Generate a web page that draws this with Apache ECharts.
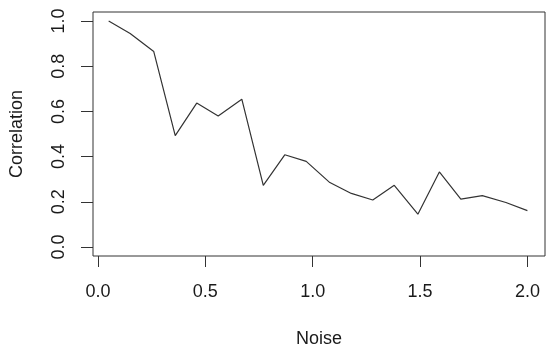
<!DOCTYPE html>
<html>
<head>
    <meta charset="UTF-8">
    <title>Correlation vs Noise</title>
    <script src="https://cdn.jsdelivr.net/npm/echarts@6/dist/echarts.min.js"></script>
    <style>
        body { margin: 0; background: #fff; }
        #chart { width: 550px; height: 353px; }
    </style>
</head>
<body>
    <div id="chart"></div>
    <script>
    // data
    const noise = [0.05, 0.15, 0.26, 0.36, 0.46, 0.56, 0.67, 0.77, 0.87, 0.97,
                   1.08, 1.18, 1.28, 1.38, 1.49, 1.59, 1.69, 1.79, 1.90, 2.00];
    const correlation = [1.00, 0.945, 0.865, 0.493, 0.637, 0.580, 0.654, 0.273, 0.408, 0.379,
                         0.285, 0.237, 0.208, 0.273, 0.145, 0.332, 0.212, 0.227, 0.197, 0.161];
    const xTicks = [0, 0.5, 1, 1.5, 2];
    const yTicks = [0, 0.2, 0.4, 0.6, 0.8, 1];

    const chart = echarts.init(document.getElementById('chart'));
    const font = 'Liberation Sans, Arial, sans-serif';
    const ink = '#333';

    chart.setOption({
        animation: false,
        grid: { left: 91, right: 5, top: 12, bottom: 94, show: true, borderColor: ink, borderWidth: 1 },
        xAxis: {
            type: 'value', min: -0.023, max: 2.082,
            name: 'Noise', nameLocation: 'middle', nameGap: 74,
            nameTextStyle: { fontFamily: font, fontSize: 18, color: '#1a1a1a' },
            axisLine: { show: false, onZero: false },
            splitLine: { show: false },
            axisTick: { show: true, length: 11, customValues: xTicks, lineStyle: { color: ink } },
            axisLabel: { customValues: xTicks, margin: 27, fontFamily: font, fontSize: 18, color: '#1a1a1a',
                         formatter: v => v.toFixed(1) }
        },
        yAxis: {
            type: 'value', min: -0.04, max: 1.04,
            name: 'Correlation', nameLocation: 'middle', nameGap: 67,
            nameTextStyle: { fontFamily: font, fontSize: 18, color: '#1a1a1a' },
            axisLine: { show: false, onZero: false },
            splitLine: { show: false },
            axisTick: { show: true, length: 12, customValues: yTicks, lineStyle: { color: ink } },
            axisLabel: { customValues: yTicks, rotate: 90, margin: 25, fontFamily: font, fontSize: 18, color: '#1a1a1a',
                         formatter: v => v.toFixed(1) }
        },
        series: [{
            type: 'line',
            data: noise.map((x, i) => [x, correlation[i]]),
            symbol: 'none',
            lineStyle: { color: ink, width: 1.2 }
        }]
    });
    </script>
</body>
</html>
